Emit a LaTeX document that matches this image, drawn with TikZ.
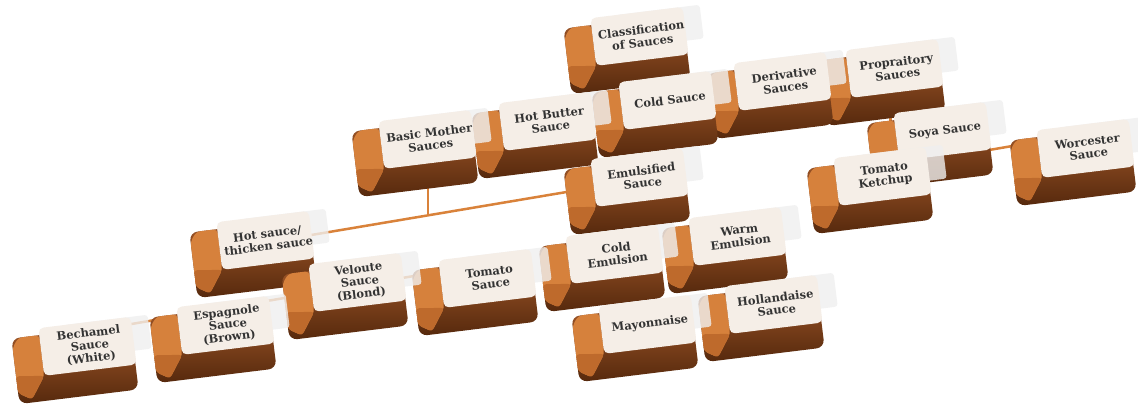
\documentclass[tikz,border=0pt]{standalone}
\usepackage{fontspec}
\setmainfont{DejaVu Serif}
\usetikzlibrary{calc,backgrounds}

\definecolor{capcream}{HTML}{F5EEE7}
\definecolor{sideorange}{HTML}{D6813C}
\definecolor{bevelorange}{HTML}{BE6A2C}
\definecolor{fronttop}{HTML}{A3592A}
\definecolor{frontbottom}{HTML}{56290D}
\definecolor{linkorange}{HTML}{D9823A}
\definecolor{tabgray}{HTML}{EFEFEF}
\definecolor{labelgray}{HTML}{333333}

\tikzset{
  keytab/.style={fill=tabgray, fill opacity=0.8, rounded corners=3pt},
  keyfront/.style={top color=fronttop, bottom color=frontbottom, rounded corners=8pt},
  keyside/.style={fill=sideorange, rounded corners=4pt},
  keybevel/.style={fill=bevelorange, rounded corners=3pt},
  keyface/.style={fill=capcream, rounded corners=5pt},
  keytext/.style={text=labelgray, align=center, rotate=7, font=\bfseries\fontsize{11.5}{12.6}\selectfont},
  link/.style={draw=linkorange, line width=2.5pt},
}

% one key cap: #1 name, #2 centre, #3 label
\newcommand{\saucekey}[3]{%
  \begin{scope}[shift={(#2)}, rotate=7]
    \fill[keytab] (-6,-40) rectangle (78,-6);
    \shade[keyfront] (-60,-33) rectangle (60,33);
    \fill[keyside] (-60,-24) -- (-53,-33) -- (-32,-33) -- (-32,8) -- (-47,30) -- (-60,22) -- cycle;
    \fill[keybevel] (-60,5) -- (-32,8) -- (-47,30) -- (-60,22) -- cycle;
    \fill[keyface] (-32,-40) rectangle (61,8);
    \node[keytext] (#1) at (17,-16) {#3};
    \coordinate (#1-c) at (0,-13);
    \coordinate (#1-t) at (0,-30);
    \coordinate (#1-lo) at (0,11);
  \end{scope}}

\begin{document}
\begin{tikzpicture}[x=1pt, y=-1pt]
  \useasboundingbox (0,0) rectangle (1138,406);

  % top rows
  \saucekey{clas}{627,54}{Classification\\of Sauces}
  \saucekey{prop}{882,86}{Propraitory\\Sauces}
  \saucekey{deriv}{770,99}{Derivative\\Sauces}
  \saucekey{cold}{655,118}{Cold Sauce}
  \saucekey{hotb}{535,139}{Hot Butter\\Sauce}
  \saucekey{soya}{930,149}{Soya Sauce}
  \saucekey{basic}{415,157}{Basic Mother\\Sauces}
  \saucekey{worc}{1073,166}{Worcester\\Sauce}
  \saucekey{emul}{627,195}{Emulsified\\Sauce}
  \saucekey{ketch}{870,194}{Tomato\\Ketchup}

  % lower rows
  \saucekey{warm}{725,254}{Warm\\Emulsion}
  \saucekey{hot}{253,258}{Hot sauce/\\thicken sauce}
  \saucekey{colde}{602,272}{Cold\\Emulsion}
  \saucekey{tom}{475,296}{Tomato\\Sauce}
  \saucekey{vel}{345,300}{Veloute\\Sauce\\(Blond)}
  \saucekey{holl}{761,322}{Hollandaise\\Sauce}
  \saucekey{mayo}{635,342}{Mayonnaise}
  \saucekey{esp}{213,343}{Espagnole\\Sauce\\(Brown)}
  \saucekey{bech}{75,364}{Bechamel\\Sauce\\(White)}

  % connectors behind the keys
  \begin{scope}[on background layer]
    \fill[white] (0,0) rectangle (1138,406);
    \coordinate (j1) at ($(hot-c)!0.472!(emul-c)$);
    \coordinate (j2) at ($(prop-c)+(10,0)$);
    \draw[link] (hot-c) -- (emul-c);
    \draw[link] (j1) -- (j1 |- basic-c);
    \draw[link] (bech-t) -- (tom-t);
    \draw[link] (j2) -- (j2 |- soya-c);
    \draw[link] (soya-lo) -- (worc-t);
  \end{scope}
\end{tikzpicture}
\end{document}
